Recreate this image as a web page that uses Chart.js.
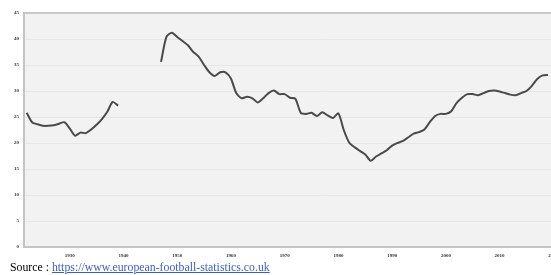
<!DOCTYPE html>
<html>
<head>
<meta charset="utf-8">
<script src="https://cdn.jsdelivr.net/npm/chart.js@4"></script>
<style>
html,body{margin:0;padding:0;background:#fff;overflow:hidden;width:551px;height:275px;}
#wrap{position:absolute;left:0;top:0;width:620px;height:262px;}
#src{position:absolute;left:10px;top:260px;font-family:"Liberation Serif","DejaVu Serif",serif;font-size:11.8px;color:#000;white-space:nowrap;}
#src a{color:#3a5fcd;text-decoration:underline;}
</style>
</head>
<body>
<div id="wrap"><canvas id="c" width="620" height="262"></canvas></div>
<div id="src">Source : <a href="#">https://www.european-football-statistics.co.uk</a></div>
<script>
const years = [1922,1923,1924,1925,1926,1927,1928,1929,1930,1931,1932,1933,1934,1935,1936,1937,1938,1939,
1940,1941,1942,1943,1944,1945,1946,
1947,1948,1949,1950,1951,1952,1953,1954,1955,1956,1957,1958,1959,1960,1961,1962,1963,1964,1965,1966,1967,1968,1969,
1970,1971,1972,1973,1974,1975,1976,1977,1978,1979,1980,1981,1982,1983,1984,1985,1986,1987,1988,1989,
1990,1991,1992,1993,1994,1995,1996,1997,1998,1999,2000,2001,2002,2003,2004,2005,2006,2007,2008,2009,
2010,2011,2012,2013,2014,2015,2016,2017,2018,2019];
const attendance = [25.8,24.0,23.6,23.3,23.3,23.4,23.7,24.0,22.8,21.4,22.0,21.9,22.6,23.5,24.6,26.0,27.9,27.2,
null,null,null,null,null,null,null,
35.6,40.4,41.2,40.4,39.6,38.8,37.5,36.6,35.0,33.6,32.9,33.6,33.6,32.4,29.6,28.6,28.9,28.6,27.8,28.6,29.6,30.1,29.4,
29.4,28.7,28.5,25.8,25.6,25.8,25.2,25.9,25.3,24.8,25.7,22.5,20.1,19.2,18.5,17.8,16.6,17.4,18.0,18.6,
19.5,20.0,20.4,21.1,21.8,22.1,22.6,24.0,25.2,25.6,25.6,26.1,27.7,28.7,29.4,29.4,29.2,29.6,30.0,30.1,
29.9,29.6,29.3,29.2,29.6,30.0,31.0,32.3,33.0,33.1];
const xTicks = [1930,1940,1950,1960,1970,1980,1990,2000,2010,2020];
const yTicks = [0,5,10,15,20,25,30,35,40,45];

const points = years.map((y,i)=>({x:y,y:attendance[i]}));

const bgPlugin = {
  id:'bg',
  beforeDraw(chart){
    const {ctx, chartArea:a} = chart;
    ctx.save();
    ctx.fillStyle = '#f2f2f2';
    ctx.fillRect(a.left, a.top, a.right-a.left, a.bottom-a.top);
    ctx.restore();
  }
};

new Chart(document.getElementById('c'), {
  type:'line',
  data:{datasets:[{data:points, borderColor:'#4a4a4a', borderWidth:2, pointRadius:0, tension:0.25, spanGaps:false, fill:false}]},
  options:{
    responsive:false, animation:false,
    layout:{padding:{top:13,left:0,right:0,bottom:0}},
    plugins:{legend:{display:false}, tooltip:{enabled:false}},
    scales:{
      x:{type:'linear', min:1921.5, max:2032.4,
        afterFit(s){s.height=15;},
        afterBuildTicks(s){s.ticks = xTicks.map(v=>({value:v}));},
        grid:{display:false, drawTicks:false},
        border:{display:true,color:'#c4c4c4',width:2},
        ticks:{padding:6, maxRotation:0, autoSkip:false, color:'#333', font:{family:'Liberation Serif', size:5, weight:'bold'}, callback:v=>String(v)}
      },
      y:{min:0, max:45,
        afterFit(s){s.width=24;},
        afterBuildTicks(s){s.ticks = yTicks.map(v=>({value:v}));},
        grid:{color:(c)=>c.tick && c.tick.value===45 ? '#c8c8c8' : '#e6e6e6', lineWidth:(c)=>c.tick && c.tick.value===45 ? 2 : 1, drawTicks:false},
        border:{display:true,color:'#c4c4c4',width:2},
        ticks:{padding:5, color:'#333', font:{family:'Liberation Serif', size:5, weight:'bold'}, callback:v=>String(v)}
      }
    }
  },
  plugins:[bgPlugin]
});
</script>
</body>
</html>
